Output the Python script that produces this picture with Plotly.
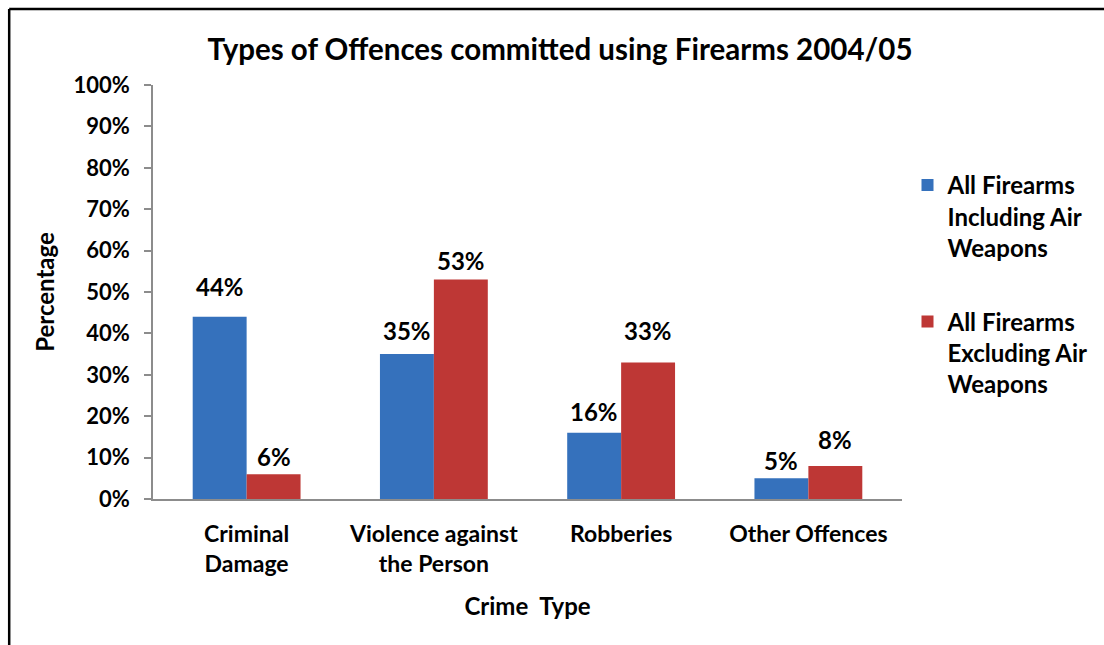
import plotly.graph_objects as go

# Crime categories and share of offences (%) for each firearm grouping
categories = ["Criminal<br>Damage", "Violence against<br>the Person", "Robberies", "Other Offences"]
incl_air = [44, 35, 16, 5]
excl_air = [6, 53, 33, 8]
series_names = ["All Firearms<br>Including Air<br>Weapons", "All Firearms<br>Excluding Air<br>Weapons"]
y_ticks = list(range(0, 101, 10))
y_tick_text = [f"{v}%" for v in y_ticks]

# label lift above each bar top (px), per series
lift_incl = [30, 24, 21, 18]
lift_excl = [18, 19, 32, 26]

FONT = "Lato"
BLUE = "#3571BC"
RED = "#BE3735"

fig = go.Figure()
fig.add_trace(go.Bar(x=categories, y=incl_air, name=series_names[0],
                     marker=dict(color=BLUE, line=dict(width=0)), legendgroup="a"))
fig.add_trace(go.Bar(x=categories, y=excl_air, name=series_names[1],
                     marker=dict(color=RED, line=dict(width=0)), legendgroup="b"))

# value labels centred over each bar
for i, cat in enumerate(categories):
    for vals, lifts, shift in ((incl_air, lift_incl, -27), (excl_air, lift_excl, 27)):
        fig.add_annotation(x=cat, y=vals[i], text=f"{vals[i]}%", showarrow=False,
                           xshift=shift, yshift=lifts[i], yanchor="middle",
                           font=dict(family=FONT, size=24, color="black", weight="bold"))

# frame lines along the top and left edges
fig.add_shape(type="line", xref="paper", yref="paper", x0=-0.192, x1=1.4, y0=1.1836, y1=1.1836,
              line=dict(color="black", width=2.5))
fig.add_shape(type="line", xref="paper", yref="paper", x0=-0.192, x1=-0.192, y0=1.1836, y1=-0.4,
              line=dict(color="black", width=2.5))

fig.update_layout(
    width=1104, height=645,
    margin=dict(l=153, r=201, t=85, b=146),
    paper_bgcolor="white", plot_bgcolor="white",
    barmode="group", bargap=0.424, bargroupgap=0,
    font=dict(family=FONT, color="black"),
    title=dict(text="<b>Types of Offences committed using Firearms 2004/05</b>",
               x=560 / 1104, xanchor="center", y=1 - 50 / 645, yanchor="middle",
               font=dict(family=FONT, size=29.5, color="black")),
    legend=dict(x=1.006, y=0.812, xanchor="left", yanchor="top", valign="top",
                font=dict(family=FONT, size=24, color="black", weight="bold"),
                tracegroupgap=40, itemwidth=30, traceorder="grouped"),
    xaxis=dict(showline=True, linecolor="#8C8C8C", linewidth=1.5, ticks="", showgrid=False,
               ticklabelstandoff=14,
               tickfont=dict(family=FONT, size=23, color="black", weight="bold"),
               title=dict(text="<b>Crime\u00a0 Type</b>", standoff=22,
                          font=dict(family=FONT, size=24, color="black"))),
    yaxis=dict(range=[0, 100], tickvals=y_ticks, ticktext=y_tick_text, showgrid=False,
               showline=True, linecolor="#8C8C8C", linewidth=1.5,
               ticks="outside", ticklen=7, tickcolor="#8C8C8C", tickwidth=1.5,
               ticklabelstandoff=10,
               tickfont=dict(family=FONT, size=22, color="black", weight="bold"),
               title=dict(text="<b>Percentage</b>", standoff=12,
                          font=dict(family=FONT, size=24, color="black"))),
    showlegend=True,
)

fig.write_html("out.html")
